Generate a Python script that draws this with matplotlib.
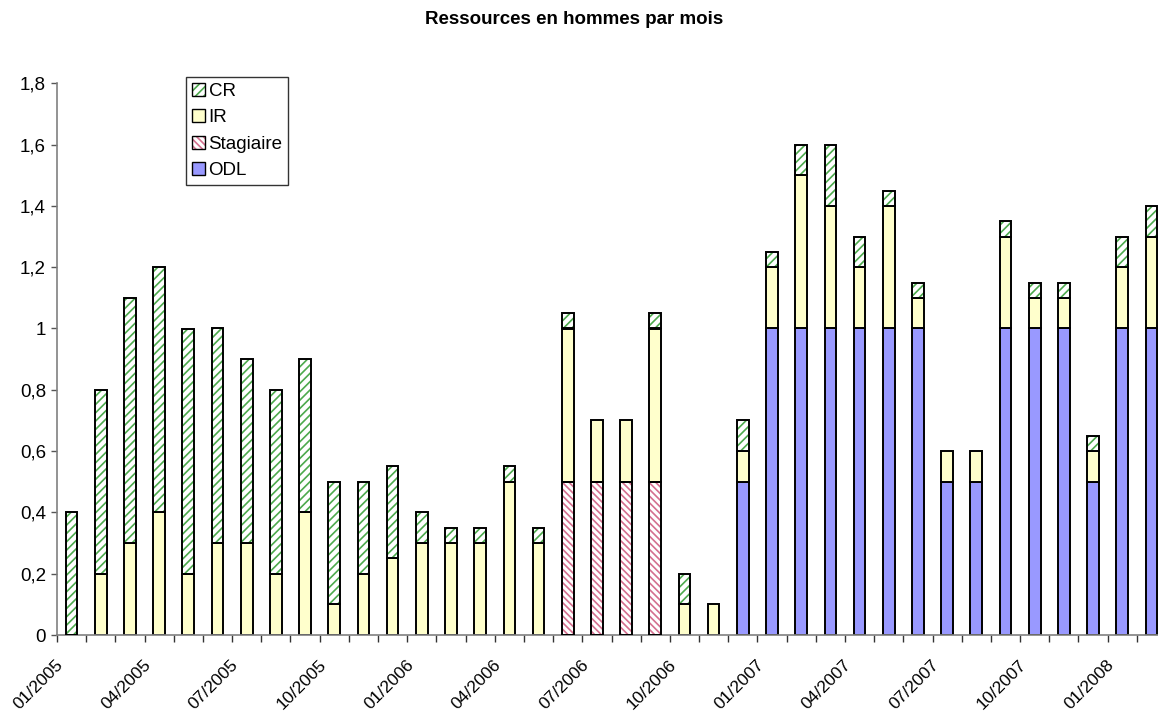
import matplotlib
matplotlib.use("Agg")
import matplotlib.pyplot as plt
from matplotlib.patches import Patch
from matplotlib.transforms import ScaledTranslation
import numpy as np

plt.rcParams['font.family'] = ['Liberation Sans', 'DejaVu Sans']
plt.rcParams['hatch.linewidth'] = 1.2

# Months from 01/2005 to 02/2008
months = [f"{m:02d}/{y}" for y in range(2005, 2009) for m in range(1, 13)][:38]

odl = [0, 0, 0, 0, 0, 0, 0, 0, 0, 0, 0, 0,
       0, 0, 0, 0, 0, 0, 0, 0, 0, 0, 0, 0.5,
       1, 1, 1, 1, 1, 1, 0.5, 0.5, 1, 1, 1, 0.5,
       1, 1]
stagiaire = [0, 0, 0, 0, 0, 0, 0, 0, 0, 0, 0, 0,
             0, 0, 0, 0, 0, 0.5, 0.5, 0.5, 0.5, 0, 0, 0,
             0, 0, 0, 0, 0, 0, 0, 0, 0, 0, 0, 0,
             0, 0]
ir = [0, 0.2, 0.3, 0.4, 0.2, 0.3, 0.3, 0.2, 0.4, 0.1, 0.2, 0.25,
      0.3, 0.3, 0.3, 0.5, 0.3, 0.5, 0.2, 0.2, 0.5, 0.1, 0.1, 0.1,
      0.2, 0.5, 0.4, 0.2, 0.4, 0.1, 0.1, 0.1, 0.3, 0.1, 0.1, 0.1,
      0.2, 0.3]
cr = [0.4, 0.6, 0.8, 0.8, 0.8, 0.7, 0.6, 0.6, 0.5, 0.4, 0.3, 0.3,
      0.1, 0.05, 0.05, 0.05, 0.05, 0.05, 0, 0, 0.05, 0.1, 0, 0.1,
      0.05, 0.1, 0.2, 0.1, 0.05, 0.05, 0, 0, 0.05, 0.05, 0.05, 0.05,
      0.1, 0.1]

W, H, DPI = 1158, 712, 100
FS = 13.5
fig = plt.figure(figsize=(W / DPI, H / DPI), dpi=DPI)
fig.patch.set_facecolor('white')
x0, x1, y0, y1 = 57, 1166, 635, 83.3
ax = fig.add_axes([x0 / W, (H - y0) / H, (x1 - x0) / W, (y0 - y1) / H])

x = np.arange(len(months))
bw = 0.4
edge = '#000000'

odl_a = np.array(odl)
stag_a = np.array(stagiaire)
ir_a = np.array(ir)
cr_a = np.array(cr)

series = [
    ("ODL", odl_a, np.zeros_like(odl_a), '#9999FF', None, None),
    ("Stagiaire", stag_a, odl_a, 'white', '\\\\\\\\\\', '#D4708F'),
    ("IR", ir_a, odl_a + stag_a, '#FFFFCC', None, None),
    ("CR", cr_a, odl_a + stag_a + ir_a, 'white', '////', '#4DAA4D'),
]

styles = {}
for name, vals, bottom, fc, hatch, hc in series:
    mask = vals > 0
    if hatch:
        ax.bar(x[mask], vals[mask], bw, bottom=bottom[mask], color=fc,
               hatch=hatch, edgecolor=hc, linewidth=0, zorder=2)
        ax.bar(x[mask], vals[mask], bw, bottom=bottom[mask], facecolor='none',
               edgecolor=edge, linewidth=1.4, zorder=3)
    else:
        ax.bar(x[mask], vals[mask], bw, bottom=bottom[mask], color=fc,
               edgecolor=edge, linewidth=1.4, zorder=2)
    styles[name] = (fc, hatch, hc)

ax.set_xlim(-0.5, len(months) - 0.5)
ax.set_ylim(0, 1.8)


def fmt(v):
    s = f"{v:.1f}".replace('.', ',')
    return s[:-2] if s.endswith(',0') else s


yt = np.arange(0, 1.81, 0.2)
ax.set_yticks(yt)
ax.set_yticklabels([fmt(v) for v in yt], fontsize=FS)
ax.tick_params(axis='y', length=4, width=1, color='#555555', pad=4)

ax.set_xticks(x[::3])
ax.set_xticklabels(months[::3], rotation=45, ha='right', rotation_mode='anchor',
                   fontsize=12.5)
ax.tick_params(axis='x', which='major', length=0, pad=14)
shift = ScaledTranslation(-16 / DPI, -3 / DPI, fig.dpi_scale_trans)
for lab in ax.get_xticklabels():
    lab.set_transform(lab.get_transform() + shift)
ax.set_xticks(np.arange(-0.5, len(months) + 0.5, 1), minor=True)
ax.tick_params(axis='x', which='minor', length=5, width=1, color='#333333')

for s in ['top', 'right']:
    ax.spines[s].set_visible(False)
for s in ['left', 'bottom']:
    ax.spines[s].set_color('#808080')
    ax.spines[s].set_linewidth(1.2)

fig.text(574 / W, 1 - 19 / H, "Ressources en hommes par mois", ha='center',
         va='center', fontsize=FS, fontweight='bold')

leg_handles = []
leg_labels = []
for name in ["CR", "IR", "Stagiaire", "ODL"]:
    fc, hatch, hc = styles[name]
    if hatch:
        h = (Patch(facecolor=fc, hatch=hatch, edgecolor=hc, linewidth=0),
             Patch(facecolor='none', edgecolor=edge, linewidth=1.0))
    else:
        h = Patch(facecolor=fc, edgecolor=edge, linewidth=1.0)
    leg_handles.append(h)
    leg_labels.append(name)
leg = fig.legend(leg_handles, leg_labels, loc='upper left',
                 bbox_to_anchor=(186 / W, 1 - 77 / H), fontsize=FS,
                 frameon=True, fancybox=False, edgecolor='black',
                 handlelength=0.7, handleheight=0.7, handletextpad=0.2,
                 labelspacing=0.5, borderpad=0.3, borderaxespad=0)
leg.get_frame().set_linewidth(1.0)

fig.savefig("out.png", dpi=DPI)
